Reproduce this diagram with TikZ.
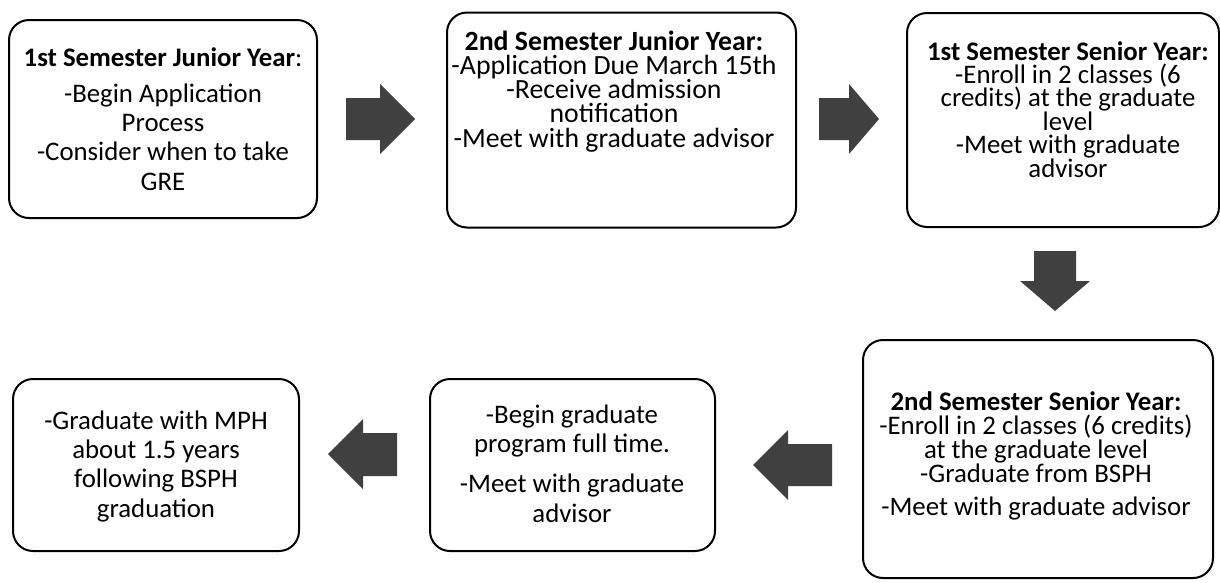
\documentclass[tikz,border=0pt]{standalone}
\usepackage{fontspec}
\setmainfont{Carlito}
\definecolor{arr}{HTML}{404040}
\begin{document}
\begin{tikzpicture}[x=1pt,y=-1pt,
  box/.style={draw=black, line width=2pt, rounded corners=20pt, fill=white, inner sep=0pt},
  txt/.style 2 args={align=center, inner sep=0pt, anchor=base, font=\fontsize{#1}{#2}\selectfont},
  blk/.style={fill=arr}]
\useasboundingbox (0,0) rectangle (1220,582);
% boxes
\node[box, minimum width=308pt, minimum height=198pt] (b1) at (163,119) {};
\node[box, minimum width=349pt, minimum height=215pt] (b2) at (621.5,120) {};
\node[box, minimum width=312pt, minimum height=214pt] (b3) at (1063,120) {};
\node[box, minimum width=350pt, minimum height=238pt] (b4) at (1038,459) {};
\node[box, minimum width=285pt, minimum height=172pt] (b5) at (572.5,465) {};
\node[box, minimum width=286pt, minimum height=172pt] (b6) at (156,465) {};
% texts (anchor = baseline of last line)
\node[txt={26.8}{29.3}] (t1) at (163,190) {\textbf{1st Semester Junior Year}:\\[6.7pt]-Begin Application\\Process\\-Consider when to take\\GRE};
\node[txt={27.8}{24.25}] (t2) at (614,147) {\textbf{2nd Semester Junior Year:}\\-Application Due March 15th\\-Receive admission\\notification\\-Meet with graduate advisor};
\node[txt={26.8}{23.4}] (t3) at (1068,177) {\textbf{1st Semester Senior Year:}\\-Enroll in 2 classes (6\\credits) at the graduate\\level\\-Meet with graduate\\advisor};
\node[txt={26.8}{24}] (t4) at (1036,515) {\textbf{2nd Semester Senior Year:}\\-Enroll in 2 classes (6 credits)\\at the graduate level\\-Graduate from BSPH\\[9pt]-Meet with graduate advisor};
\node[txt={26.8}{29.5}] (t5) at (572,522) {-Begin graduate\\program full time.\\[10.5pt]-Meet with graduate\\advisor};
\node[txt={26.8}{29.3}] (t6) at (156,517) {-Graduate with MPH\\about 1.5 years\\following BSPH\\graduation};
% block arrows
\fill[blk] (346,98) -- (380,98) -- (380,84) -- (415,119) -- (380,154) -- (380,140) -- (346,140) -- cycle;
\fill[blk] (819,98) -- (849,98) -- (849,84) -- (879,119) -- (849,154) -- (849,140) -- (819,140) -- cycle;
\fill[blk] (1034,251) -- (1076,251) -- (1076,281) -- (1090,281) -- (1055,311) -- (1020,281) -- (1034,281) -- cycle;
\fill[blk] (832,444) -- (788,444) -- (788,430) -- (753,465) -- (788,500) -- (788,486) -- (832,486) -- cycle;
\fill[blk] (397,433) -- (363,433) -- (363,419) -- (328,454) -- (363,489) -- (363,476) -- (397,476) -- cycle;
\end{tikzpicture}
\end{document}
